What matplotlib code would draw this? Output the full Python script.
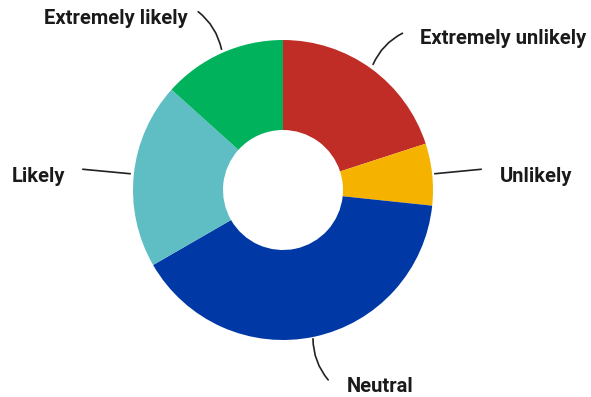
import matplotlib.pyplot as plt

labels = ['Extremely unlikely', 'Unlikely', 'Neutral', 'Likely', 'Extremely likely']
counts = [3, 1, 6, 3, 2]
colors = ['#BF2D26', '#F5B300', '#0038A5', '#5FBEC3', '#00B25C']

# label positions / leader lines in pixels (x, y from top-left)
label_pos = [(420, 38, 'left'), (500, 176, 'left'), (347, 386, 'left'),
             (12, 176, 'left'), (188, 18, 'right')]
line_start = [(372, 67), (432, 174), (313, 336), (133, 174), (222, 52)]
line_end = [(405, 32), (484, 169), (330, 382), (80, 169), (196, 10)]
line_rad = [0.2, 0.0, -0.2, 0.0, -0.2]

cx, cy, r = 283, 190, 150.0


def to_data(px, py):
    return (px - cx) / r, (cy - py) / r


fig = plt.figure(figsize=(5.91, 3.97), dpi=100)
ax = fig.add_axes([0, 0, 1, 1])
ax.pie(counts, colors=colors, startangle=90, counterclock=False, radius=1,
       wedgeprops=dict(width=0.6, linewidth=0))
ax.set_xlim(-cx / r, (591 - cx) / r)
ax.set_ylim(-(397 - cy) / r, cy / r)
ax.set_aspect('equal')
ax.axis('off')

for lab, (tx, ty, ha), s, e, rad in zip(labels, label_pos, line_start, line_end, line_rad):
    ax.annotate('', xy=to_data(*s), xytext=to_data(*e),
                arrowprops=dict(arrowstyle='-', color='#222222', lw=1.2,
                                connectionstyle='arc3,rad=%s' % rad))
    ax.text(*to_data(tx, ty), lab, ha=ha, va='center', fontsize=14.5,
            fontweight='bold', family='Roboto', color='#1a1a1a')

plt.savefig('out.png')
